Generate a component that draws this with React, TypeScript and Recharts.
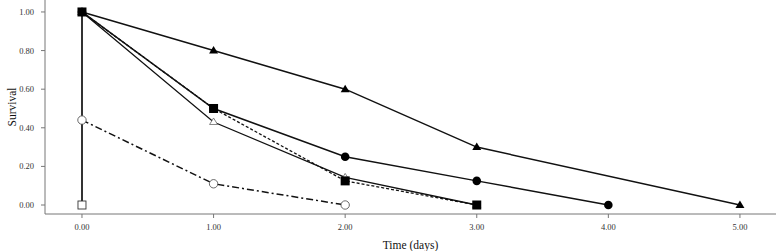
import React from 'react';
import { LineChart, Line, XAxis, YAxis } from 'recharts';

// Survival data per group (time in days, survival proportion)
const filledTriangleTimes = [0, 1, 2, 3, 5];
const filledTriangleSurv = [1.0, 0.8, 0.6, 0.3, 0.0];

const filledCircleTimes = [0, 1, 2, 3, 4];
const filledCircleSurv = [1.0, 0.5, 0.25, 0.125, 0.0];

const filledSquareTimes = [0, 1, 2, 3];
const filledSquareSurv = [1.0, 0.5, 0.125, 0.0];

const openTriangleTimes = [0, 1, 2, 3];
const openTriangleSurv = [1.0, 0.43, 0.143, 0.0];

const openCircleTimes = [0, 1, 2];
const openCircleSurv = [0.44, 0.11, 0.0];

const openSquareTimes = [0, 0];
const openSquareSurv = [1.0, 0.0];

const xTicks = [0, 1, 2, 3, 4, 5];
const yTicks = [0, 0.2, 0.4, 0.6, 0.8, 1.0];

const zip = (t: number[], s: number[]) => t.map((x, i) => ({ t: x, s: s[i] }));

const FONT = '"Liberation Serif", "Times New Roman", serif';

const FilledTriangle = (p: any) => {
  const { cx, cy } = p;
  if (cx == null || cy == null) return <g key={p.key} />;
  return <path key={p.key} d={`M${cx},${cy - 4.5} L${cx + 4.5},${cy + 3} L${cx - 4.5},${cy + 3} Z`} fill="#000" />;
};
const OpenTriangle = (p: any) => {
  const { cx, cy } = p;
  if (cx == null || cy == null) return <g key={p.key} />;
  return <path key={p.key} d={`M${cx},${cy - 4} L${cx + 4},${cy + 2.5} L${cx - 4},${cy + 2.5} Z`} fill="#fff" stroke="#666" strokeWidth={0.8} />;
};
const FilledCircle = (p: any) => {
  const { cx, cy } = p;
  if (cx == null || cy == null) return <g key={p.key} />;
  return <circle key={p.key} cx={cx} cy={cy} r={4.3} fill="#000" />;
};
const OpenCircle = (p: any) => {
  const { cx, cy } = p;
  if (cx == null || cy == null) return <g key={p.key} />;
  return <circle key={p.key} cx={cx} cy={cy} r={4.2} fill="#fff" stroke="#444" strokeWidth={0.8} />;
};
const FilledSquare = (p: any) => {
  const { cx, cy } = p;
  if (cx == null || cy == null) return <g key={p.key} />;
  return <rect key={p.key} x={cx - 4.5} y={cy - 4.5} width={9} height={9} fill="#000" />;
};
const OpenSquareEnd = (p: any) => {
  const { cx, cy, index } = p;
  if (cx == null || cy == null || index !== 1) return <g key={p.key} />;
  return <rect key={p.key} x={cx - 4} y={cy - 4} width={8} height={8} fill="#fff" stroke="#333" strokeWidth={0.9} />;
};

export default function App() {
  return (
    <div style={{ position: 'absolute', left: 0, top: 0, background: '#fff' }}>
      <LineChart width={778} height={251} margin={{ top: 0, right: 2, bottom: 0, left: 0 }}>
        <XAxis
          type="number"
          dataKey="t"
          domain={[-0.281, 5.274]}
          ticks={xTicks}
          tickFormatter={(v: number) => v.toFixed(2)}
          allowDataOverflow
          height={37}
          stroke="#777"
          tickSize={4}
          tickMargin={6}
          tick={{ fontSize: 8.5, fontFamily: FONT, fill: '#333' }}
          label={{ value: 'Time (days)', position: 'insideBottom', offset: 2, style: { fontSize: 11.5, fontFamily: FONT, fill: '#111' } }}
        />
        <YAxis
          type="number"
          dataKey="s"
          domain={[-0.0466, 1.062]}
          ticks={yTicks}
          tickFormatter={(v: number) => v.toFixed(2)}
          allowDataOverflow
          width={45}
          stroke="#777"
          tickSize={4}
          tickMargin={7}
          tick={{ fontSize: 8.5, fontFamily: FONT, fill: '#333' }}
          label={{ value: 'Survival', angle: -90, position: 'insideLeft', offset: 12, style: { fontSize: 11.5, fontFamily: FONT, fill: '#111', textAnchor: 'middle' } }}
        />
        <Line data={zip(openSquareTimes, openSquareSurv)} dataKey="s" stroke="#333" strokeWidth={2} dot={OpenSquareEnd} isAnimationActive={false} />
        <Line data={zip(openCircleTimes, openCircleSurv)} dataKey="s" stroke="#111" strokeWidth={1.5} strokeDasharray="7 3 2 3" dot={OpenCircle} isAnimationActive={false} />
        <Line data={zip(openTriangleTimes, openTriangleSurv)} dataKey="s" stroke="#111" strokeWidth={1.3} dot={OpenTriangle} isAnimationActive={false} />
        <Line data={zip(filledTriangleTimes, filledTriangleSurv)} dataKey="s" stroke="#111" strokeWidth={1.5} dot={FilledTriangle} isAnimationActive={false} />
        <Line data={zip(filledCircleTimes, filledCircleSurv)} dataKey="s" stroke="#111" strokeWidth={1.5} dot={FilledCircle} isAnimationActive={false} />
        <Line data={zip(filledSquareTimes, filledSquareSurv)} dataKey="s" stroke="#111" strokeWidth={1.3} strokeDasharray="3 2" dot={FilledSquare} isAnimationActive={false} />
      </LineChart>
    </div>
  );
}
